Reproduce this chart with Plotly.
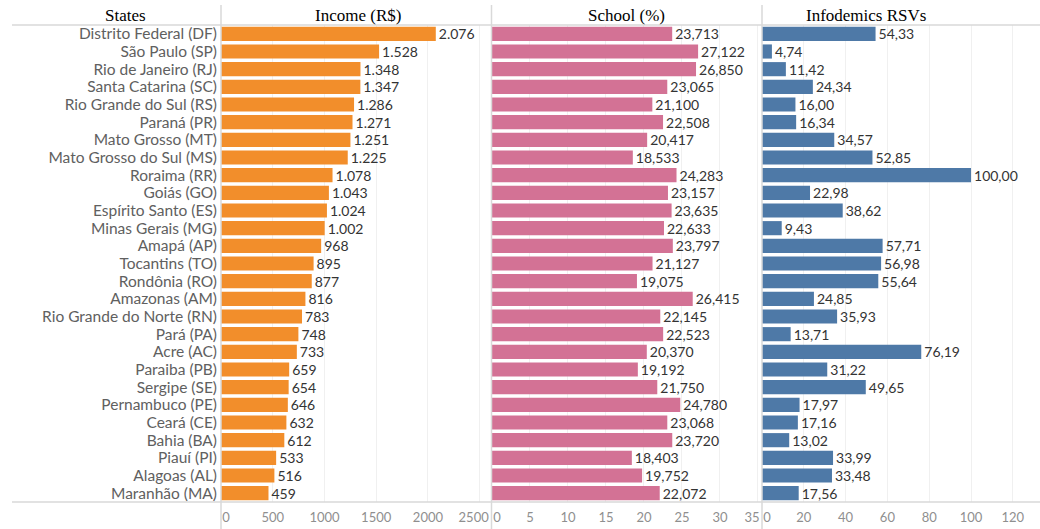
import plotly.graph_objects as go

states = ["Distrito Federal (DF)", "São Paulo (SP)", "Rio de Janeiro (RJ)", "Santa Catarina (SC)",
          "Rio Grande do Sul (RS)", "Paraná (PR)", "Mato Grosso (MT)", "Mato Grosso do Sul (MS)",
          "Roraima (RR)", "Goiás (GO)", "Espírito Santo (ES)", "Minas Gerais (MG)", "Amapá (AP)",
          "Tocantins (TO)", "Rondônia (RO)", "Amazonas (AM)", "Rio Grande do Norte (RN)", "Pará (PA)",
          "Acre (AC)", "Paraiba (PB)", "Sergipe (SE)", "Pernambuco (PE)", "Ceará (CE)", "Bahia (BA)",
          "Piauí (PI)", "Alagoas (AL)", "Maranhão (MA)"]
income = [2076, 1528, 1348, 1347, 1286, 1271, 1251, 1225, 1078, 1043, 1024, 1002, 968, 895, 877,
          816, 783, 748, 733, 659, 654, 646, 632, 612, 533, 516, 459]
school = [23.713, 27.122, 26.850, 23.065, 21.100, 22.508, 20.417, 18.533, 24.283, 23.157, 23.635,
          22.633, 23.797, 21.127, 19.075, 26.415, 22.145, 22.523, 20.370, 19.192, 21.750, 24.780,
          23.068, 23.720, 18.403, 19.752, 22.072]
infodemics = [54.33, 4.74, 11.42, 24.34, 16.00, 16.34, 34.57, 52.85, 100.00, 22.98, 38.62, 9.43,
              57.71, 56.98, 55.64, 24.85, 35.93, 13.71, 76.19, 31.22, 49.65, 17.97, 17.16, 13.02,
              33.99, 33.48, 17.56]
headers = ["States", "Income (R$)", "School (%)", "Infodemics RSVs"]
income_ticks = [0, 500, 1000, 1500, 2000, 2500]
school_ticks = [0, 5, 10, 15, 20, 25, 30, 35]
info_ticks = [0, 20, 40, 60, 80, 100, 120]


def fmt_thousands(v):
    return f"{v:,}".replace(",", ".")


def fmt_dec(v, d):
    return f"{v:.{d}f}".replace(".", ",")


W, H = 1040, 529
top_px, bot_px = 25, 502
ydom = [(H - bot_px) / H, (H - top_px) / H]
panels = [(221, 490), (492, 761), (762, 1031)]
ranges = [[0, 2600], [0, 35.4], [0, 128.7]]
tick_sets = [income_ticks, school_ticks, info_ticks]
last_shift = [-6, -6, 0]

fig = go.Figure()
series = [
    (income, [fmt_thousands(v) for v in income], "#F28E2B", "x", "y"),
    (school, [fmt_dec(v, 3) for v in school], "#D37295", "x2", "y2"),
    (infodemics, [fmt_dec(v, 2) for v in infodemics], "#4E79A7", "x3", "y3"),
]
for vals, txt, col, xa, ya in series:
    fig.add_trace(go.Bar(
        x=vals, y=states, orientation="h", marker=dict(color=col, line=dict(width=0)),
        text=txt, textposition="outside", cliponaxis=False, constraintext="none",
        textfont=dict(family="Lato", size=14, color="#333333"),
        xaxis=xa, yaxis=ya, hoverinfo="skip", showlegend=False))

tickfont = dict(family="Lato", size=13, color="#8f8f8f")
common_x = dict(zeroline=False, showline=False, ticks="", tickfont=tickfont, fixedrange=True,
                ticklabelstandoff=6, tickmode="array", automargin=False)
common_y = dict(domain=ydom, range=[len(states) - 0.5, -0.5], autorange=False, showgrid=False,
                fixedrange=True, automargin=False, zeroline=False, type="category",
                categoryorder="array", categoryarray=states)

layout = dict(width=W, height=H, margin=dict(l=0, r=0, t=0, b=0, autoexpand=False),
              paper_bgcolor="white", plot_bgcolor="white", bargap=0.2)
extra = 4
for i in range(3):
    ticks = tick_sets[i]
    dom = [panels[i][0] / W, panels[i][1] / W]
    name = "xaxis" if i == 0 else f"xaxis{i + 1}"
    xid = "x" if i == 0 else f"x{i + 1}"
    yid = "y" if i == 0 else f"y{i + 1}"
    mid_text = [""] + [str(t) for t in ticks[1:-1]] + \
               ([""] if last_shift[i] else [str(ticks[-1])])
    layout[name] = dict(domain=dom, range=ranges[i], anchor=yid, tickvals=ticks,
                        ticktext=mid_text, showgrid=True, gridcolor="#f0f0f0", gridwidth=1,
                        **common_x)
    edge = [(ticks[0], 5)]
    if last_shift[i]:
        edge.append((ticks[-1], last_shift[i]))
    for tv, sh in edge:
        layout[f"xaxis{extra}"] = dict(domain=dom, range=ranges[i], anchor=yid, overlaying=xid,
                                       tickvals=[tv], ticktext=[str(tv)],
                                       ticklabelshift=sh, showgrid=False, **common_x)
        # empty placeholder trace so the overlay axis is drawn
        fig.add_trace(go.Scatter(x=[None], y=[states[0]], xaxis=f"x{extra}", yaxis=yid,
                                 mode="markers", hoverinfo="skip", showlegend=False))
        extra += 1

layout["yaxis"] = dict(anchor="x", ticks="", tickmode="array", tickvals=states,
                       tickfont=dict(family="Lato", size=15.5, color="#606060"),
                       ticklabelstandoff=3, **common_y)
layout["yaxis2"] = dict(anchor="x2", showticklabels=False, **common_y)
layout["yaxis3"] = dict(anchor="x3", showticklabels=False, **common_y)
fig.update_layout(**layout)

shapes = []
line_col = "#d9d9d9"
for ypx in [top_px, bot_px]:
    shapes.append(dict(type="line", xref="paper", yref="paper", x0=12 / W, x1=1,
                       y0=(H - ypx) / H, y1=(H - ypx) / H, line=dict(color=line_col, width=1.5)))
for xpx in [221, 491.5, 762]:
    shapes.append(dict(type="line", xref="paper", yref="paper", x0=xpx / W, x1=xpx / W,
                       y0=0, y1=(H - 5) / H, line=dict(color=line_col, width=1.5)))
fig.update_layout(shapes=shapes)

hx = [125, 358, 626, 866]
for h, x in zip(headers, hx):
    fig.add_annotation(text=h, x=x / W, y=(H - 15) / H, xref="paper", yref="paper",
                       showarrow=False, xanchor="center", yanchor="middle",
                       font=dict(family="Liberation Serif", size=17, color="black"))

fig.write_html("out.html", config={"displayModeBar": False},
               post_script="document.body.style.margin='0';document.body.style.overflow='hidden';")
